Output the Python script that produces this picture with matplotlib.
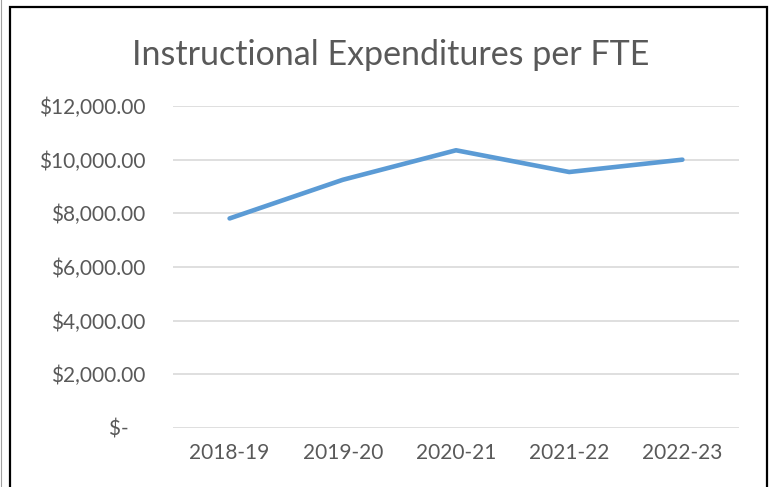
import matplotlib
matplotlib.use("Agg")
from matplotlib import pyplot as plt
from matplotlib.patches import Rectangle
from matplotlib.lines import Line2D

years = ["2018-19", "2019-20", "2020-21", "2021-22", "2022-23"]
expenditure = [7810, 9250, 10350, 9540, 10000]
y_ticks = [0, 2000, 4000, 6000, 8000, 10000, 12000]
y_labels = ["$-   ", "$2,000.00", "$4,000.00", "$6,000.00", "$8,000.00", "$10,000.00", "$12,000.00"]

plt.rcParams["font.family"] = ["Lato", "DejaVu Sans"]
text_gray = "#595959"

fig = plt.figure(figsize=(7.73, 4.87), dpi=100)
ax = fig.add_axes([173 / 773, 59 / 487, 566 / 773, 322 / 487])

x = range(len(years))
ax.plot(x, expenditure, color="#5B9BD5", linewidth=3.3, solid_capstyle="round", solid_joinstyle="round", zorder=3)

ax.set_xlim(-0.5, len(years) - 0.5)
ax.set_ylim(0, 12000)
ax.set_xticks(list(x))
ax.set_xticklabels(years)
ax.set_yticks(y_ticks)
ax.set_yticklabels(y_labels)
ax.grid(axis="y", color="#D9D9D9", linewidth=1.2)
ax.set_axisbelow(True)
for s in ax.spines.values():
    s.set_visible(False)
ax.tick_params(axis="both", length=0, labelsize=15, colors=text_gray)
ax.tick_params(axis="y", pad=20)
ax.tick_params(axis="x", pad=11)

fig.text(391 / 773, 1 - 55 / 487, "Instructional Expenditures per FTE", ha="center", va="center",
         fontsize=24.5, color=text_gray)

# chart frame
fig.patches.append(Rectangle((10 / 773, -0.05), 757 / 773, 1.05 - 7 / 487, transform=fig.transFigure,
                             fill=False, edgecolor="black", linewidth=1.6))
fig.lines.append(Line2D([1 / 773, 1 / 773], [0, 1], transform=fig.transFigure, color="#A0A0A0", linewidth=0.8))

fig.savefig("out.png", dpi=100)
